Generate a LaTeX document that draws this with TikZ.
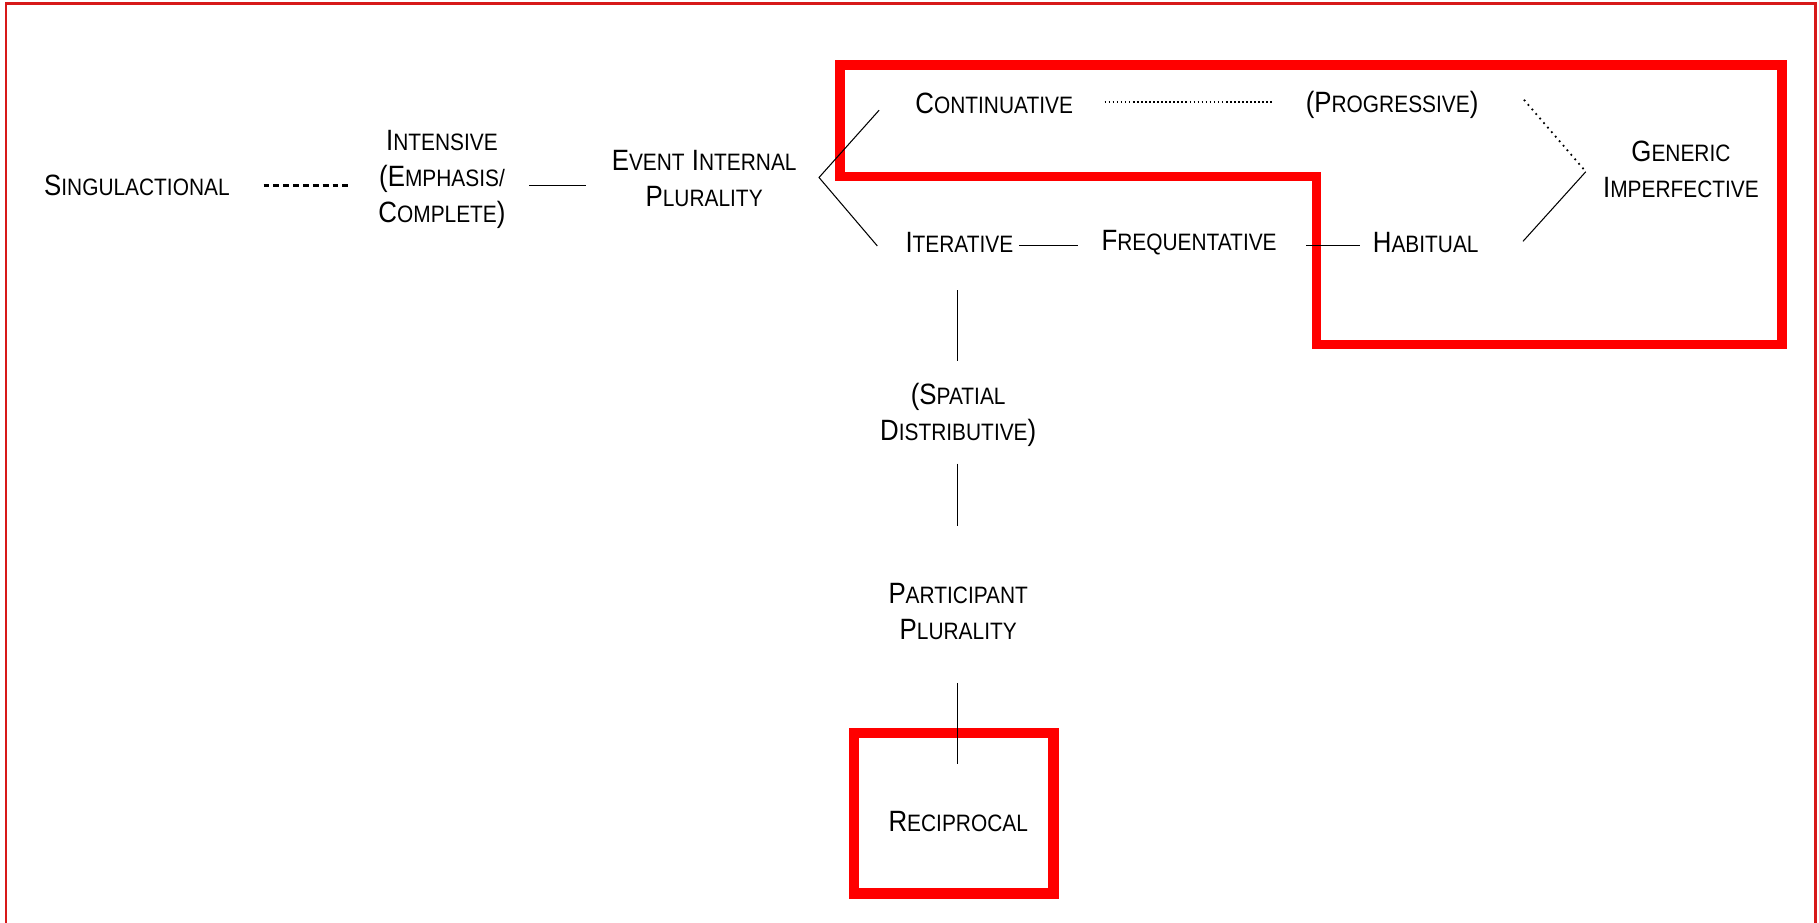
\documentclass[tikz,border=0pt]{standalone}
\usepackage{fontspec}
\setmainfont[FakeStretch=0.88]{Liberation Sans}
\usetikzlibrary{calc}
\definecolor{framered}{RGB}{215,25,25}
\newcommand{\bigsz}{\fontsize{16.7}{20.5}\selectfont}
\newcommand{\smsz}{\fontsize{13.5}{20.5}\selectfont}
\newcommand{\sk}[2]{#1{\smsz #2}}
\tikzset{
	lbl/.style={font=\bigsz, align=center, inner sep=0pt},
	link/.style={line width=0.6pt},
	dashline/.style={line width=1.3pt, dash pattern=on 3.3pt off 2.3pt},
	dotline/.style={line width=0.9pt, dash pattern=on 0.9pt off 1.4pt},
	hilite/.style={draw=red, line width=5.3pt}
}

\begin{document}
\begin{tikzpicture}[x=0.0232cm, y=-0.0232cm]
			\useasboundingbox (0, 0) rectangle (1568, 795);
			\draw [framered, line width=1.2pt] (5, 3) rectangle (1565, 797);
			\draw [hilite] (724, 56)--(1536, 56)--(1536, 297)--(1135, 297)--(1135, 152)--(724, 152)--cycle;
			\draw [hilite, line width=6pt] (736, 632) rectangle (908, 770);
			\node [lbl] (sing) at (118, 160) {\sk{S}{INGULACTIONAL}};
			\node [lbl] (int) at (381, 155) {\sk{I}{NTENSIVE}\\(\sk{E}{MPHASIS/}\\\sk{C}{OMPLETE})};
			\node [lbl] (eip) at (607, 154) {\sk{E}{VENT} \sk{I}{NTERNAL}\\\sk{P}{LURALITY}};
			\node [lbl] (cont) at (857, 89) {\sk{C}{ONTINUATIVE}};
			\node [lbl] (prog) at (1200, 90) {(\sk{P}{ROGRESSIVE})};
			\node [lbl] (gen) at (1449, 146) {\sk{G}{ENERIC}\\\sk{I}{MPERFECTIVE}};
			\node [lbl] (iter) at (827, 209) {\sk{I}{TERATIVE}};
			\node [lbl] (freq) at (1025, 209) {\sk{F}{REQUENTATIVE}};
			\node [lbl] (hab) at (1229, 209) {\sk{H}{ABITUAL}};
			\node [lbl] (spat) at (826, 358) {(\sk{S}{PATIAL}\\\sk{D}{ISTRIBUTIVE})};
			\node [lbl] (part) at (826, 527) {\sk{P}{ARTICIPANT}\\\sk{P}{LURALITY}};
			\node [lbl] (recip) at (826, 708) {\sk{R}{ECIPROCAL}};
			\coordinate (fork) at (706, 153);
			\coordinate (join) at (1367, 148);
			\draw [dashline] ($(sing.east)+(29, 0)$)--($(int.west |- sing.east)+(-24, 0)$);
			\draw [link] ($(int.east)+(20, 5)$)--($(eip.west |- int.east)+(-22, 5)$);
			\draw [link] ($(cont.west)+(-31, 6)$)--(fork)--($(iter.west)+(-24, 3)$);
			\draw [dotline] ($(cont.east)+(27, -1)$)--($(prog.west)+(-29, -2)$);
			\draw [line width=1pt, dash pattern=on 1pt off 2.4pt] ($(prog.east)+(39, -4)$)--(join);
			\draw [link] (join)--($(hab.east)+(38, -1)$);
			\draw [link] ($(iter.east)+(5, 3)$)--($(freq.west)+(-20, 3)$);
			\draw [link] ($(freq.east)+(25, 3)$)--($(hab.west)+(-11, 3)$);
			\draw [link] ($(iter.south)+(-2, 32)$)--($(spat.north)+(-1, -19)$);
			\draw [link] ($(spat.south)+(-1, 14)$)--($(part.north)+(-1, -49)$);
			\draw [link] ($(part.south)+(-1, 37)$)--($(recip.north)+(-1, -40)$);
		\end{tikzpicture}
\end{document}
